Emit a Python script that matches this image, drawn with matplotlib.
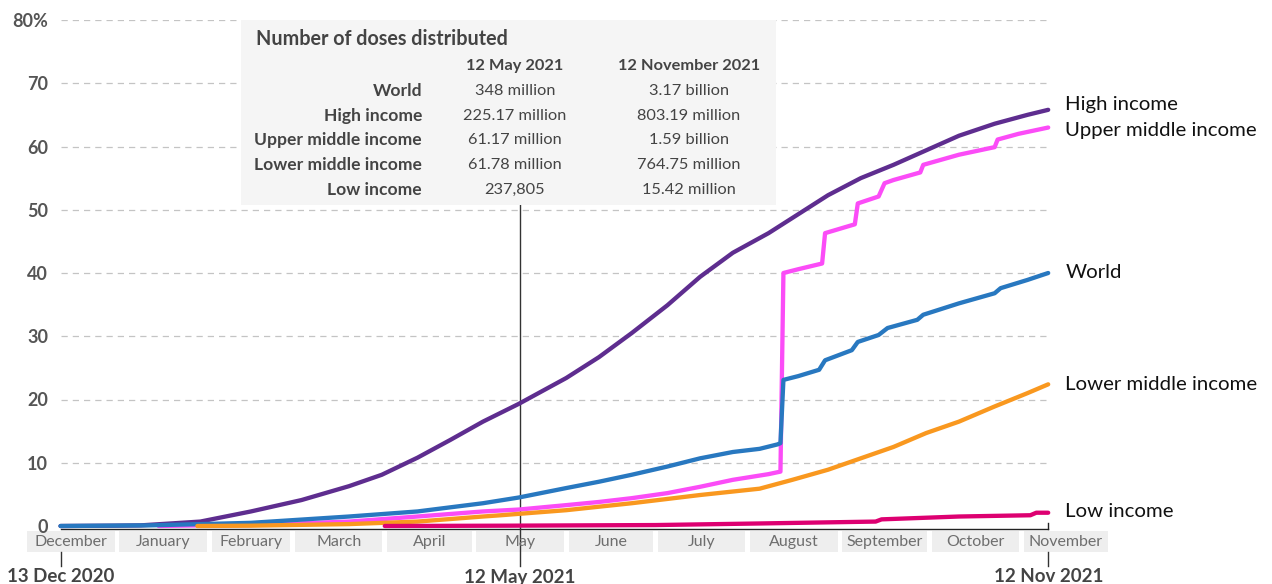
import numpy as np
import matplotlib.pyplot as plt
from matplotlib.patches import Rectangle

plt.rcParams['font.family'] = ['Lato', 'DejaVu Sans']

# x values are days since 13 Dec 2020, y values are % of population
high_days = [0, 18, 27, 47, 64, 81, 97, 108, 120, 131, 142, 154, 170, 181, 192, 204,
             215, 226, 238, 249, 258, 269, 280, 291, 302, 314, 325, 332]
high_vals = [0, 0.05, 0.1, 0.7, 2.3, 4.1, 6.3, 8.1, 10.8, 13.6, 16.5, 19.3, 23.4, 26.7,
             30.5, 34.9, 39.4, 43.2, 46.3, 49.6, 52.3, 55.0, 57.1, 59.4, 61.7, 63.6, 65.0, 65.8]

world_days = [0, 30, 64, 97, 120, 142, 154, 170, 181, 192, 204, 215, 226, 235, 241, 242,
              243, 248, 255, 257, 266, 268, 275, 278, 288, 290, 302, 314, 316, 325, 332]
world_vals = [0, 0.1, 0.5, 1.5, 2.3, 3.6, 4.5, 6.0, 7.0, 8.1, 9.4, 10.7, 11.7, 12.2, 12.9, 13.1,
              23.1, 23.7, 24.7, 26.2, 27.8, 29.1, 30.2, 31.3, 32.6, 33.4, 35.2, 36.8, 37.6, 38.9, 40.0]

upper_days = [33, 47, 64, 97, 120, 142, 154, 170, 181, 192, 204, 215, 226, 238, 242, 243,
              248, 256, 257, 267, 268, 275, 277, 280, 289, 290, 302, 314, 315, 322, 328, 332]
upper_vals = [0, 0.1, 0.15, 0.7, 1.5, 2.3, 2.6, 3.3, 3.8, 4.4, 5.2, 6.2, 7.3, 8.2, 8.6, 40.0,
              40.6, 41.5, 46.3, 47.7, 51.0, 52.1, 54.2, 54.7, 55.9, 57.1, 58.7, 59.9, 61.1, 62.0, 62.6, 63.0]

lower_days = [46, 64, 97, 120, 142, 148, 170, 192, 215, 235, 246, 258, 269, 280, 291, 302, 314, 325, 332]
lower_vals = [0, 0.05, 0.3, 0.7, 1.5, 1.7, 2.5, 3.6, 4.9, 5.9, 7.3, 8.9, 10.7, 12.5, 14.7, 16.5, 18.9, 21.0, 22.4]

low_days = [109, 150, 200, 235, 274, 276, 302, 326, 328, 332]
low_vals = [0, 0.05, 0.15, 0.4, 0.7, 1.05, 1.5, 1.7, 2.1, 2.1]

series_names = ['High income', 'Upper middle income', 'World', 'Lower middle income', 'Low income']
series_colors = ['#5e2d8f', '#fb4cf7', '#2878c0', '#f9981f', '#dd0071']
label_y = [66.6, 62.5, 40.0, 22.3, 2.3]

months = ['December', 'January', 'February', 'March', 'April', 'May', 'June',
          'July', 'August', 'September', 'October', 'November']
month_start = [-12, 19, 50, 78, 109, 139, 170, 200, 231, 262, 292, 323, 353]

y_ticks = [0, 10, 20, 30, 40, 50, 60, 70, 80]
y_labels = ['0', '10', '20', '30', '40', '50', '60', '70', '80%']

marker_pos = [0, 154.5, 332]
marker_labels = ['13 Dec 2020', '12 May 2021', '12 Nov 2021']

table_title = 'Number of doses distributed'
table_cols = ['12 May 2021', '12 November 2021']
table_rows = ['World', 'High income', 'Upper middle income', 'Lower middle income', 'Low income']
table_may = ['348 million', '225.17 million', '61.17 million', '61.78 million', '237,805']
table_nov = ['3.17 billion', '803.19 million', '1.59 billion', '764.75 million', '15.42 million']

W, H = 1272, 584
AH = 506  # axes height in pixels


def px(x, y):
    return x / W, 1 - y / H


fig = plt.figure(figsize=(W / 100, H / 100), dpi=100)
ax = fig.add_axes([60.5 / W, 58 / H, 987.7 / W, AH / H])
ax.set_xlim(0, 332)
ax.set_ylim(0, 80)
for s in ax.spines.values():
    s.set_visible(False)
ax.set_xticks([])
ax.set_yticks(y_ticks)
ax.set_yticklabels(y_labels)
ax.tick_params(axis='y', length=0, pad=9, labelsize=13, labelcolor='#555')
for t in ax.get_yticklabels():
    t.set_fontweight('bold')
ax.grid(axis='y', color='#c4c4c4', linestyle=(0, (5, 4)), linewidth=0.9, zorder=1)
ax.get_ygridlines()[0].set_visible(False)
ax.set_axisbelow(False)

# table box behind the grid
fig.add_artist(Rectangle(px(241, 205), 535 / W, 185 / H, transform=fig.transFigure,
                         facecolor='#f5f5f5', edgecolor='none', zorder=0.5))

# baseline
ax.plot([0, 332], [-0.4, -0.4], color='#222', linewidth=1, clip_on=False, zorder=1.5)
ax.plot([332, 332], [-0.4, 0.4], color='#222', linewidth=1, clip_on=False, zorder=1.5)

# month bands
xt = ax.get_xaxis_transform()
for i, m in enumerate(months):
    a, b = month_start[i], month_start[i + 1]
    ax.add_patch(Rectangle((a + 0.8, -26 / AH), b - a - 1.6, 21 / AH,
                           transform=xt, facecolor='#eeeeee', edgecolor='none', clip_on=False))
    ax.text((a + b) / 2, -16 / AH, m, transform=xt, ha='center', va='center',
            fontsize=11.5, color='#6e6e6e', clip_on=False)

# marker ticks and labels
for i, (p, lab) in enumerate(zip(marker_pos, marker_labels)):
    top = -26 / AH if i != 1 else 321 / AH
    ax.plot([p, p], [top, -40 / AH], transform=xt, color='#333', linewidth=1,
            clip_on=False, zorder=1.6)
    ax.text(p, -51 / AH, lab, transform=xt, ha='center', va='center', fontsize=13.5,
            color='#444', fontweight='bold', clip_on=False)

all_days = [high_days, upper_days, world_days, lower_days, low_days]
all_vals = [high_vals, upper_vals, world_vals, lower_vals, low_vals]
for d, v, c in zip(all_days, all_vals, series_colors):
    ax.plot(d, v, color=c, linewidth=3.1, solid_capstyle='round', solid_joinstyle='round',
            clip_on=False, zorder=3)

for name, yl, d in zip(series_names, label_y, all_days):
    ax.annotate(name, xy=(d[-1], yl), xytext=(17, 0), textcoords='offset pixels',
                ha='left', va='center', fontsize=14.7, color='#111', annotation_clip=False)

# table text
tc = '#444'
fig.text(*px(256, 39), table_title, ha='left', va='center', fontsize=14.2, fontweight='bold', color=tc)
fig.text(*px(515, 66), table_cols[0], ha='center', va='center', fontsize=11.8, fontweight='bold', color=tc)
fig.text(*px(689, 66), table_cols[1], ha='center', va='center', fontsize=11.8, fontweight='bold', color=tc)
for i, (r, a, b) in enumerate(zip(table_rows, table_may, table_nov)):
    yy = 91 + i * 24.7
    fig.text(*px(422, yy), r, ha='right', va='center', fontsize=12.6, fontweight='bold', color=tc)
    fig.text(*px(515, yy), a, ha='center', va='center', fontsize=11.8, color=tc)
    fig.text(*px(689, yy), b, ha='center', va='center', fontsize=11.8, color=tc)

fig.savefig('out.png', dpi=100)
